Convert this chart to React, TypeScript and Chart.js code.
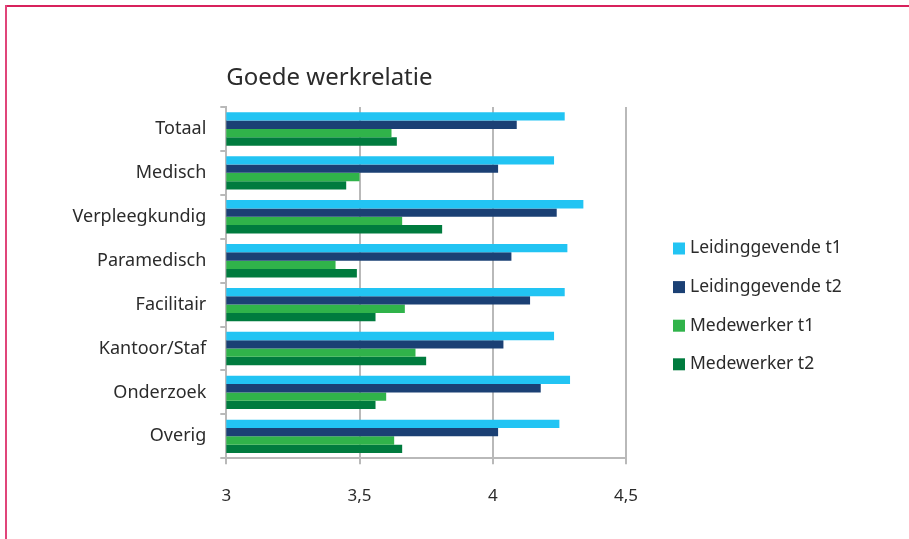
import React, { useEffect, useRef } from "react";
import { Chart, registerables } from "chart.js";

Chart.register(...registerables);

const categories = [
  "Totaal",
  "Medisch",
  "Verpleegkundig",
  "Paramedisch",
  "Facilitair",
  "Kantoor/Staf",
  "Onderzoek",
  "Overig",
];
const seriesLabels = ["Leidinggevende t1", "Leidinggevende t2", "Medewerker t1", "Medewerker t2"];
const leidinggevendeT1 = [4.27, 4.23, 4.34, 4.28, 4.27, 4.23, 4.29, 4.25];
const leidinggevendeT2 = [4.09, 4.02, 4.24, 4.07, 4.14, 4.04, 4.18, 4.02];
const medewerkerT1 = [3.62, 3.5, 3.66, 3.41, 3.67, 3.71, 3.6, 3.63];
const medewerkerT2 = [3.64, 3.45, 3.81, 3.49, 3.56, 3.75, 3.56, 3.66];
const xTicks = [3, 3.5, 4, 4.5];
const title = "Goede werkrelatie";

const colors = ["#22c4f3", "#1b4074", "#30b34a", "#007b3e"];
const FONT = "'Noto Sans', 'Open Sans', sans-serif";
const TEXT = "#2b2b2b";

export default function App() {
  const ref = useRef<HTMLCanvasElement>(null);
  useEffect(() => {
    const overlay = {
      id: "overlay",
      afterDraw(chart: any) {
        const ctx = chart.ctx;
        ctx.save();
        ctx.fillStyle = TEXT;
        ctx.font = `24px ${FONT}`;
        ctx.textBaseline = "middle";
        ctx.textAlign = "left";
        ctx.fillText(title, chart.chartArea.left, 78);
        // legend
        const startY = 248.5;
        const step = 38.6;
        chart.data.datasets.forEach((ds: any, i: number) => {
          const y = startY + i * step;
          ctx.fillStyle = ds.backgroundColor;
          ctx.fillRect(673, y - 6, 12, 12);
          ctx.fillStyle = TEXT;
          ctx.font = `17.5px ${FONT}`;
          ctx.fillText(ds.label, 690, y);
        });
        ctx.restore();
      },
    };
    const chart = new Chart(ref.current!, {
      type: "bar",
      data: {
        labels: categories,
        datasets: [leidinggevendeT1, leidinggevendeT2, medewerkerT1, medewerkerT2].map((d, i) => ({
          label: seriesLabels[i],
          data: d,
          backgroundColor: colors[i],
          borderWidth: 0,
          barPercentage: 1,
          categoryPercentage: 0.76,
        })),
      },
      options: {
        indexAxis: "y",
        animation: false,
        responsive: false,
        layout: { padding: { top: 107, right: 283, left: 0, bottom: 0 } },
        plugins: { legend: { display: false }, title: { display: false }, tooltip: { enabled: false } },
        scales: {
          x: {
            min: 3,
            max: 4.5,
            afterBuildTicks: (s: any) => {
              s.ticks = xTicks.map((v) => ({ value: v }));
            },
            afterFit: (s: any) => {
              s.height = 80.7;
            },
            ticks: {
              color: TEXT,
              font: { family: FONT, size: 17 },
              padding: 22,
              callback: (v: any) => String(v).replace(".", ","),
            },
            grid: { color: "#b9b9b9", lineWidth: 2, tickLength: 6, drawTicks: true },
            border: { color: "#b9b9b9", width: 2 },
          },
          y: {
            afterFit: (s: any) => {
              s.width = 226.3;
            },
            ticks: {
              color: TEXT,
              font: { family: FONT, size: 18 },
              padding: 14,
            },
            grid: { drawOnChartArea: false, color: "#b9b9b9", lineWidth: 2, tickLength: 6, offset: true },
            border: { color: "#b9b9b9", width: 2 },
          },
        },
      },
      plugins: [overlay],
    });
    return () => chart.destroy();
  }, []);
  return (
    <div style={{ position: "fixed", left: 0, top: 0, width: 909, height: 539, background: "#fff" }}>
      <div style={{ position: "absolute", left: 5, top: 5, right: 0, height: 2, background: "#d8215c" }} />
      <div style={{ position: "absolute", left: 5, top: 5, bottom: 0, width: 2, background: "#e0457a" }} />
      <canvas ref={ref} width={909} height={539} style={{ position: "absolute", left: 0, top: 0 }} />
    </div>
  );
}
